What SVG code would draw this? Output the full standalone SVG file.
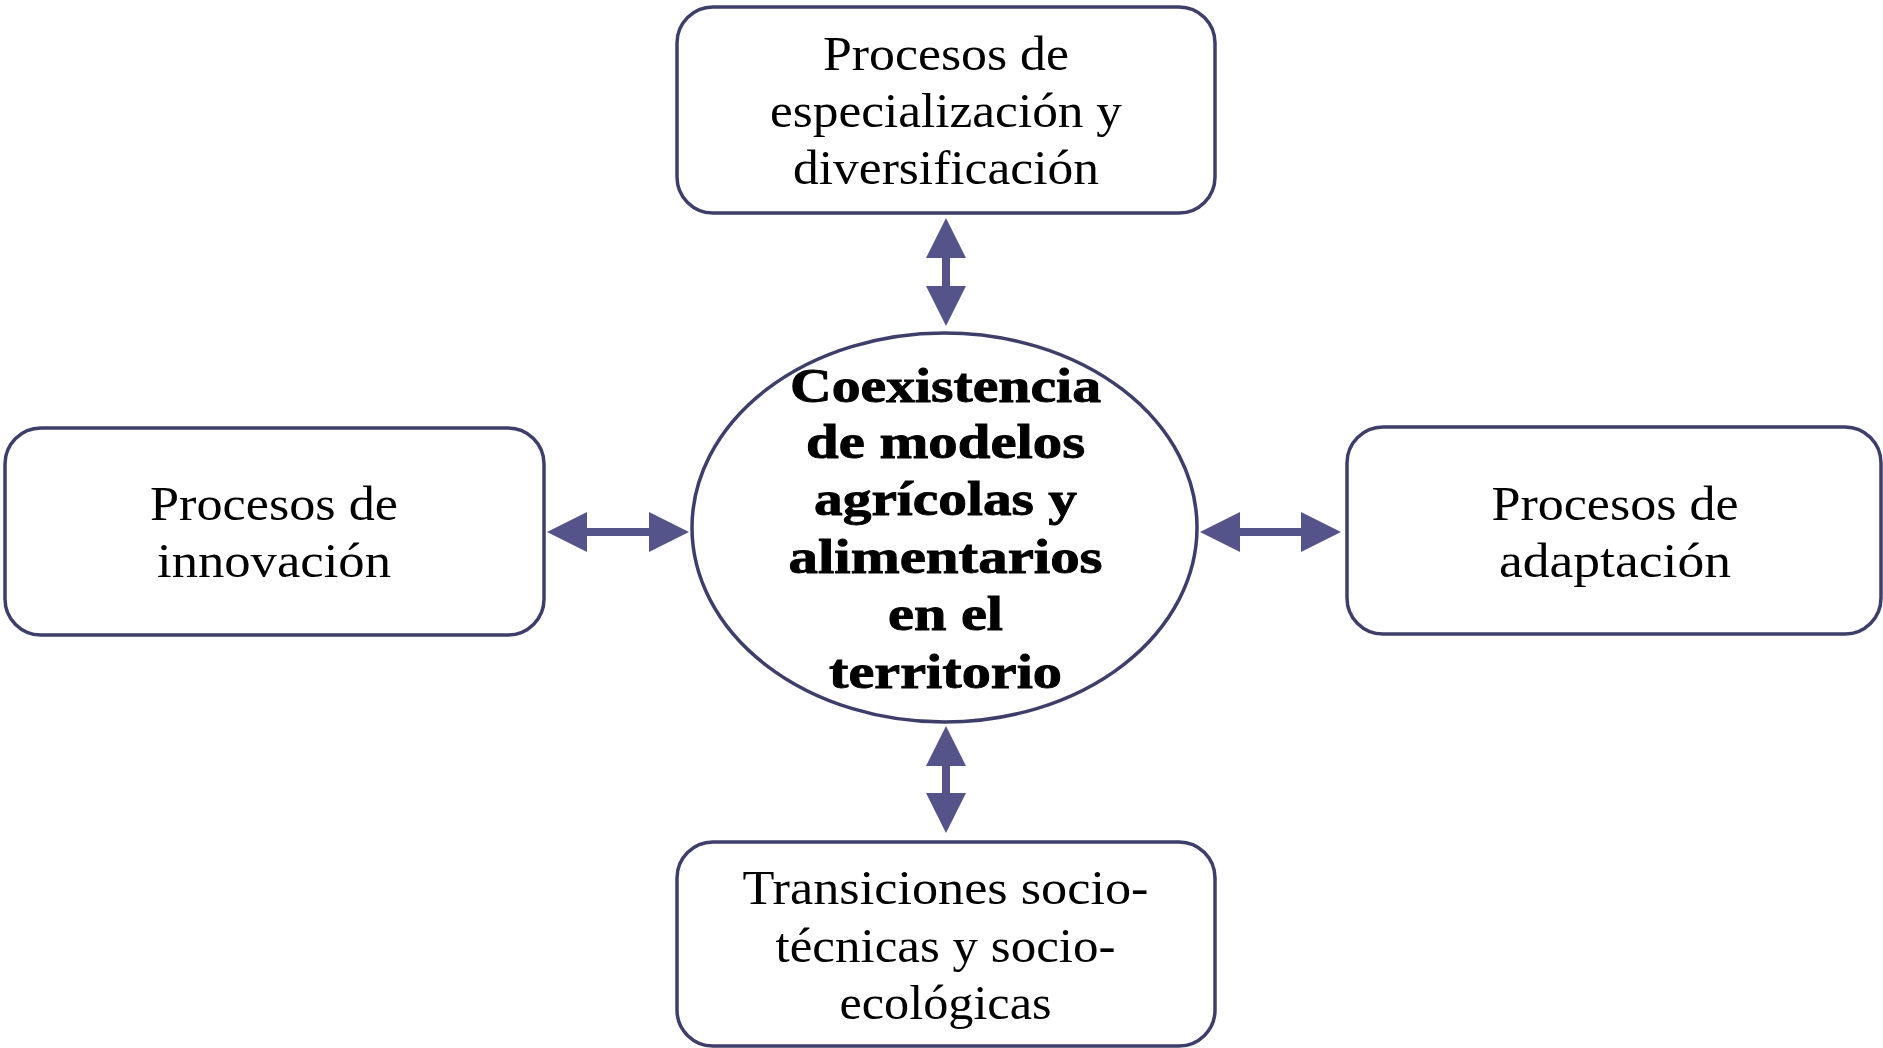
<svg xmlns="http://www.w3.org/2000/svg" width="1883" height="1048" viewBox="0 0 1883 1048">
<style>
.box{fill:#fff;stroke:#3e3e6a;stroke-width:3.5}
.t{font-family:"Liberation Serif","Times New Roman",serif;font-size:49px;fill:#000;text-anchor:middle}
.b{font-weight:bold;stroke:#000;stroke-width:0.9}
.conn{fill:none;stroke:#54548a;stroke-width:8}
</style>
<defs>
<marker id="head" viewBox="0 -20 40 40" refX="0" refY="0" markerWidth="40" markerHeight="40" markerUnits="userSpaceOnUse" orient="auto-start-reverse">
<path d="M0,-20 L40,0 L0,20 Z" fill="#54548a"/>
</marker>
</defs>
<rect width="1883" height="1048" fill="#fff"/>
<g id="connectors">
<path class="conn" d="M946,258 L946,286" marker-start="url(#head)" marker-end="url(#head)"/>
<path class="conn" d="M946,766 L946,793" marker-start="url(#head)" marker-end="url(#head)"/>
<path class="conn" d="M587,532 L649,532" marker-start="url(#head)" marker-end="url(#head)"/>
<path class="conn" d="M1240,532 L1301,532" marker-start="url(#head)" marker-end="url(#head)"/>
</g>
<g id="center">
<ellipse class="box" cx="944.5" cy="527.5" rx="252.5" ry="194.5"/>
<text class="t b" x="945.5" y="402" textLength="311" lengthAdjust="spacingAndGlyphs">Coexistencia</text>
<text class="t b" x="945.5" y="458" textLength="279" lengthAdjust="spacingAndGlyphs">de modelos</text>
<text class="t b" x="945.5" y="515" textLength="263" lengthAdjust="spacingAndGlyphs">agrícolas y</text>
<text class="t b" x="945.5" y="573" textLength="314" lengthAdjust="spacingAndGlyphs">alimentarios</text>
<text class="t b" x="945.5" y="630" textLength="115" lengthAdjust="spacingAndGlyphs">en el</text>
<text class="t b" x="945.5" y="688" textLength="233" lengthAdjust="spacingAndGlyphs">territorio</text>
</g>
<g id="top">
<rect class="box" x="677" y="7" width="538" height="206" rx="36" ry="36"/>
<text class="t" x="946" y="70" textLength="246" lengthAdjust="spacingAndGlyphs">Procesos de</text>
<text class="t" x="946" y="127" textLength="352" lengthAdjust="spacingAndGlyphs">especialización y</text>
<text class="t" x="946" y="184" textLength="306" lengthAdjust="spacingAndGlyphs">diversificación</text>
</g>
<g id="left">
<rect class="box" x="5" y="428" width="539" height="207" rx="36" ry="36"/>
<text class="t" x="274" y="520" textLength="248" lengthAdjust="spacingAndGlyphs">Procesos de</text>
<text class="t" x="274" y="577" textLength="234" lengthAdjust="spacingAndGlyphs">innovación</text>
</g>
<g id="right">
<rect class="box" x="1347" y="427" width="534" height="207" rx="36" ry="36"/>
<text class="t" x="1615" y="520" textLength="247" lengthAdjust="spacingAndGlyphs">Procesos de</text>
<text class="t" x="1615" y="577" textLength="232" lengthAdjust="spacingAndGlyphs">adaptación</text>
</g>
<g id="bottom">
<rect class="box" x="677" y="842" width="538" height="204" rx="36" ry="36"/>
<text class="t" x="945.5" y="904" textLength="406" lengthAdjust="spacingAndGlyphs">Transiciones socio-</text>
<text class="t" x="945.5" y="962" textLength="340" lengthAdjust="spacingAndGlyphs">técnicas y socio-</text>
<text class="t" x="945.5" y="1019" textLength="212" lengthAdjust="spacingAndGlyphs">ecológicas</text>
</g>
</svg>
